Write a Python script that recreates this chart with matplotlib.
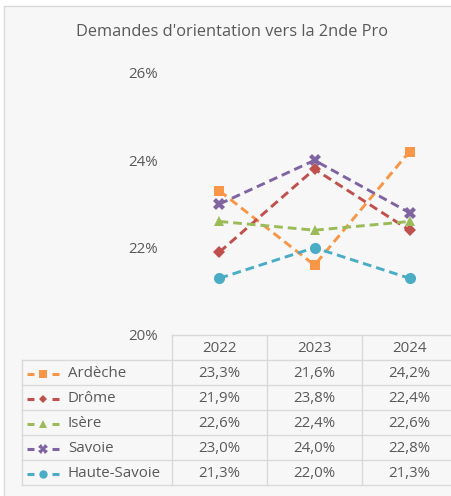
import matplotlib
matplotlib.use("Agg")
import matplotlib.pyplot as plt
from matplotlib.patches import Rectangle
from matplotlib.ticker import FuncFormatter

# Données
years = ["2022", "2023", "2024"]
departements = ["Ardèche", "Drôme", "Isère", "Savoie", "Haute-Savoie"]
ardeche = [23.3, 21.6, 24.2]
drome = [21.9, 23.8, 22.4]
isere = [22.6, 22.4, 22.6]
savoie = [23.0, 24.0, 22.8]
haute_savoie = [21.3, 22.0, 21.3]
series = [ardeche, drome, isere, savoie, haute_savoie]
y_ticks = [20, 22, 24, 26]

colors = ["#F79646", "#C0504D", "#9BBB59", "#8064A2", "#4BACC6"]
markers = ["s", "D", "^", "X", "o"]
msizes = [7.5, 6, 7.5, 9, 8]

plt.rcParams["font.family"] = ["Open Sans", "DejaVu Sans"]
TXT = "#595959"
GRID = "#d9d9d9"
FS = 10.8

W, H = 452, 496
fig = plt.figure(figsize=(W / 100, H / 100), dpi=100)
fig.patch.set_facecolor("white")

# overlay en pixels
ov = fig.add_axes([0, 0, 1, 1])
ov.set_xlim(0, W)
ov.set_ylim(H, 0)
ov.axis("off")
ov.add_patch(Rectangle((4, 6), 470, 500, facecolor="#f7f7f7",
                       edgecolor=GRID, linewidth=1, zorder=0))

ov.text(232, 32, "Demandes d'orientation vers la 2nde Pro", ha="center",
        va="center", fontsize=11.8, color=TXT)

# zone de tracé
x0, x1, ytop, ybot = 172, 457, 73, 335
ax = fig.add_axes([x0 / W, 1 - ybot / H, (x1 - x0) / W, (ybot - ytop) / H])
ax.set_facecolor("none")
xs = range(len(years))
for vals, c, m, ms in zip(series, colors, markers, msizes):
    ax.plot(xs, vals, color=c, linewidth=2.1, linestyle=(0, (3.0, 1.7)),
            marker=m, markersize=ms, markeredgewidth=0, clip_on=False)
ax.set_xlim(-0.5, 2.5)
ax.set_ylim(20, 26)
ax.set_yticks(y_ticks)
ax.yaxis.set_major_formatter(FuncFormatter(lambda v, p: f"{v:.0f}%"))
ax.tick_params(axis="y", length=0, pad=10.5, labelsize=FS, labelcolor=TXT)
ax.set_xticks([])
for s in ax.spines.values():
    s.set_visible(False)

# tableau
tab_left, col_edges = 22, [172, 267, 362, 457]
head_top, row_h = 335, 25
rows_top = head_top + row_h
n = len(departements)
bottom = rows_top + n * row_h
lw = 1
ov.plot([172, W + 5], [head_top, head_top], color=GRID, lw=lw)
for i in range(n + 1):
    y = rows_top + i * row_h
    ov.plot([tab_left, W + 5], [y, y], color=GRID, lw=lw)
ov.plot([tab_left, tab_left], [rows_top, bottom], color=GRID, lw=lw)
for xe in col_edges[:3]:
    ov.plot([xe, xe], [head_top, bottom], color=GRID, lw=lw)

for j, yr in enumerate(years):
    cx = (col_edges[j] + col_edges[j + 1]) / 2
    ov.text(cx, head_top + row_h / 2 + 1, yr, ha="center", va="center",
            fontsize=FS, color=TXT)

for i, (name, vals, c, m, ms) in enumerate(zip(departements, series, colors,
                                                markers, msizes)):
    cy = rows_top + i * row_h + row_h / 2 + 1
    ov.plot([27, 34], [cy, cy], color=c, lw=2.2, solid_capstyle="butt")
    ov.plot([52, 59], [cy, cy], color=c, lw=2.2, solid_capstyle="butt")
    ov.plot([43], [cy], marker=m, color=c, markersize=ms * 0.75,
            markeredgewidth=0)
    ov.text(68, cy, name, ha="left", va="center", fontsize=FS, color=TXT)
    for j, v in enumerate(vals):
        cx = (col_edges[j] + col_edges[j + 1]) / 2
        ov.text(cx, cy, f"{v:.1f}%".replace(".", ","), ha="center",
                va="center", fontsize=FS, color=TXT)

fig.savefig("out.png", dpi=100, facecolor=fig.get_facecolor())
